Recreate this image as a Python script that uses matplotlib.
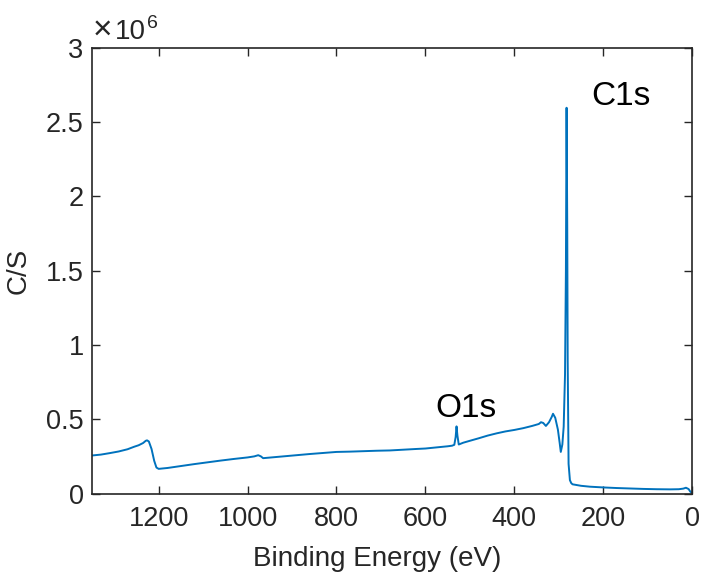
import matplotlib
matplotlib.use("Agg")
import matplotlib.pyplot as plt
from matplotlib.ticker import FuncFormatter

plt.rcParams['font.family'] = ['Liberation Sans', 'DejaVu Sans']

# Binding energy (eV) and counts per second
energy = [1350, 1330, 1310, 1290, 1270, 1255, 1245, 1235, 1229, 1226, 1222, 1216, 1210, 1205,
          1200, 1180, 1150, 1120, 1090, 1060, 1030, 1000, 985, 976, 970, 965, 950, 920,
          890, 860, 830, 800, 770, 740, 710, 680, 650, 620, 600, 570, 550, 540, 535,
          532, 530, 528, 525, 515, 500, 480, 460, 440, 420, 400, 380, 360, 345, 340,
          335, 329, 322, 316, 313, 308, 302, 298, 295.5, 292, 289, 286, 284, 282.5, 281,
          280, 278, 275, 272, 269, 250, 230, 200, 170, 140, 110, 80, 50, 30, 20, 14, 8, 4, 1, 0]
counts = [0.256, 0.262, 0.272, 0.283, 0.298, 0.315, 0.325, 0.34, 0.355, 0.358, 0.35, 0.3, 0.22, 0.175,
          0.166, 0.172, 0.185, 0.198, 0.21, 0.222, 0.233, 0.243, 0.25, 0.258, 0.25, 0.238, 0.242, 0.25,
          0.258, 0.266, 0.273, 0.28, 0.282, 0.285, 0.288, 0.29, 0.295, 0.3, 0.303, 0.312, 0.318, 0.322, 0.328,
          0.38, 0.452, 0.39, 0.33, 0.342, 0.355, 0.372, 0.39, 0.405, 0.418, 0.428, 0.44, 0.455, 0.468, 0.48,
          0.475, 0.455, 0.48, 0.515, 0.537, 0.51, 0.43, 0.34, 0.28, 0.33, 0.45, 0.8, 1.5, 2.597, 1.8,
          0.9, 0.2, 0.09, 0.07, 0.062, 0.052, 0.046, 0.041, 0.037, 0.034, 0.031, 0.029, 0.028, 0.029, 0.033, 0.039, 0.03, 0.012, 0.005, 0.004]
counts = [c * 1e6 for c in counts]

xticks = [1200, 1000, 800, 600, 400, 200, 0]
yticks = [0, 0.5e6, 1e6, 1.5e6, 2e6, 2.5e6, 3e6]
peak_labels = ["C1s", "O1s"]
peak_pos = [(160, 2.67e6), (508, 0.573e6)]

W, H = 702, 575
fig = plt.figure(figsize=(W / 100, H / 100), dpi=100)
ax = fig.add_axes([0.131, 0.1417, 0.855, 0.775])
ax.plot(energy, counts, color='#0072BD', lw=1.4)
ax.set_xlim(1350, 0)
ax.set_ylim(0, 3e6)
ax.set_xticks(xticks)
ax.set_yticks(yticks)
ax.yaxis.set_major_formatter(FuncFormatter(lambda v, p: ('%g' % (v / 1e6))))
tc = '#262626'
ax.tick_params(direction='in', length=6, width=1.0, colors=tc, labelsize=19.5,
               top=True, right=True)
ax.tick_params(axis='x', pad=9)
ax.tick_params(axis='y', pad=6)
for s in ax.spines.values():
    s.set_color(tc)
    s.set_linewidth(1.2)
ax.set_xlabel('Binding Energy (eV)', fontsize=20, color=tc)
ax.xaxis.set_label_coords(0.475, -0.1626)
ax.xaxis.label.set_va('baseline')
ax.set_ylabel('C/S', fontsize=20, color=tc, labelpad=10)

# exponent marker above the y axis
fig.text(93 / W, 1 - 39 / H, '\u00d7', fontsize=24, color=tc, ha='left', va='baseline')
fig.text(115 / W, 1 - 39 / H, '10', fontsize=20, color=tc, ha='left', va='baseline')
fig.text(147 / W, 1 - 28 / H, '6', fontsize=14, color=tc, ha='left', va='baseline')

for lab, (px, py) in zip(peak_labels, peak_pos):
    ax.text(px, py, lab, fontsize=24, color='black', ha='center', va='center')

fig.savefig('out.png', dpi=100)
